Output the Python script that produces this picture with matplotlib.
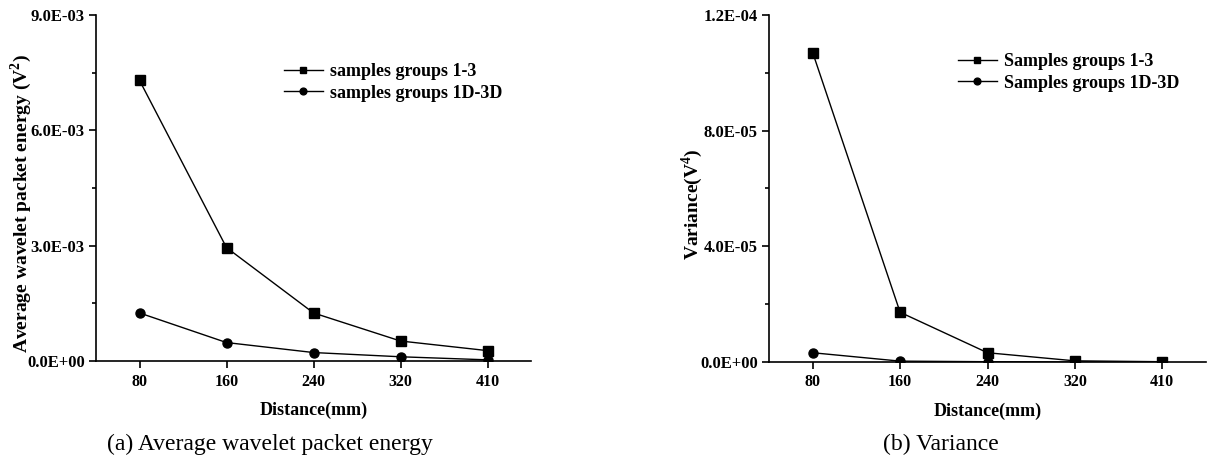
import matplotlib
matplotlib.use("Agg")
import matplotlib.pyplot as plt
from matplotlib.ticker import MultipleLocator, FuncFormatter

distances = ["80", "160", "240", "320", "410"]
energy_1_3 = [7.30e-3, 2.95e-3, 1.25e-3, 0.52e-3, 0.27e-3]
energy_1D_3D = [1.25e-3, 0.48e-3, 0.22e-3, 0.11e-3, 0.03e-3]
var_1_3 = [1.07e-4, 1.72e-5, 3.2e-6, 4e-7, 1e-7]
var_1D_3D = [3.2e-6, 3e-7, 1e-7, 0.0, 0.0]

plt.rcParams['font.family'] = ['Liberation Serif', 'DejaVu Serif']
plt.rcParams['mathtext.fontset'] = 'custom'
plt.rcParams['mathtext.rm'] = 'Liberation Serif'
plt.rcParams['mathtext.bf'] = 'Liberation Serif:bold'

W, H = 1207, 459
fig = plt.figure(figsize=(W / 100, H / 100), dpi=100)


def sci(v, pos):
    if v == 0:
        return "0.0E+00"
    return "%.1E" % v


def make_axes(x0, x1, y0, y1):
    return fig.add_axes([x0 / W, 1 - y1 / H, (x1 - x0) / W, (y1 - y0) / H])


def style(ax, ymax, major, minor):
    x = list(range(len(distances)))
    ax.set_xlim(-0.5, 4.5)
    ax.set_ylim(0, ymax)
    ax.set_xticks(x)
    ax.set_xticklabels(distances)
    ax.yaxis.set_major_locator(MultipleLocator(major))
    ax.yaxis.set_minor_locator(MultipleLocator(minor))
    ax.yaxis.set_major_formatter(FuncFormatter(sci))
    for s in ["top", "right"]:
        ax.spines[s].set_visible(False)
    for s in ["left", "bottom"]:
        ax.spines[s].set_linewidth(1.2)
    ax.tick_params(axis="both", which="major", direction="out", length=5, width=1.2)
    ax.tick_params(axis="x", which="major", pad=4, labelsize=11.5)
    ax.tick_params(axis="y", which="major", pad=3, labelsize=12)
    ax.tick_params(axis="y", which="minor", direction="out", length=3, width=1.2)
    for lab in ax.get_xticklabels() + ax.get_yticklabels():
        lab.set_fontweight("bold")
    ax.set_xlabel("Distance(mm)", fontsize=13, fontweight="bold", labelpad=9)


def add_legend(ax, x_px, top_px):
    return ax.legend(loc="upper left", bbox_to_anchor=(x_px / W, 1 - top_px / H),
                     bbox_transform=fig.transFigure, frameon=False,
                     prop={"weight": "bold", "size": 13}, handlelength=2.15,
                     handletextpad=0.4, labelspacing=0.25, borderaxespad=0,
                     borderpad=0, markerscale=0.75)


x = list(range(len(distances)))

# Panel (a)
ax1 = make_axes(96, 531, 15, 361)
ax1.plot(x, energy_1_3, color="black", lw=1, marker="s", ms=6.5, label="samples groups 1-3")
ax1.plot(x, energy_1D_3D, color="black", lw=1, marker="o", ms=6.5, label="samples groups 1D-3D")
style(ax1, 9.0e-3, 3.0e-3, 1.5e-3)
ax1.set_ylabel("Average wavelet packet energy (V$^\\mathbf{2}$)", fontsize=14,
               fontweight="bold")
ax1.yaxis.set_label_coords(-0.143, 0.455)
add_legend(ax1, 284, 63)

# Panel (b)
ax2 = make_axes(769, 1206, 15, 362)
ax2.plot(x, var_1_3, color="black", lw=1, marker="s", ms=6.5, label="Samples groups 1-3")
ax2.plot(x, var_1D_3D, color="black", lw=1, marker="o", ms=6.5, label="Samples groups 1D-3D")
style(ax2, 1.2e-4, 4.0e-5, 2.0e-5)
ax2.set_ylabel("Variance(V$^\\mathbf{4}$)", fontsize=14, fontweight="bold")
ax2.yaxis.set_label_coords(-0.147, 0.455)
add_legend(ax2, 958, 53)

fig.text(270 / W, 1 - 444 / H, "(a) Average wavelet packet energy", ha="center",
         va="center", fontsize=17)
fig.text(941 / W, 1 - 444 / H, "(b) Variance", ha="center", va="center", fontsize=17)

fig.savefig("out.png", dpi=100)
